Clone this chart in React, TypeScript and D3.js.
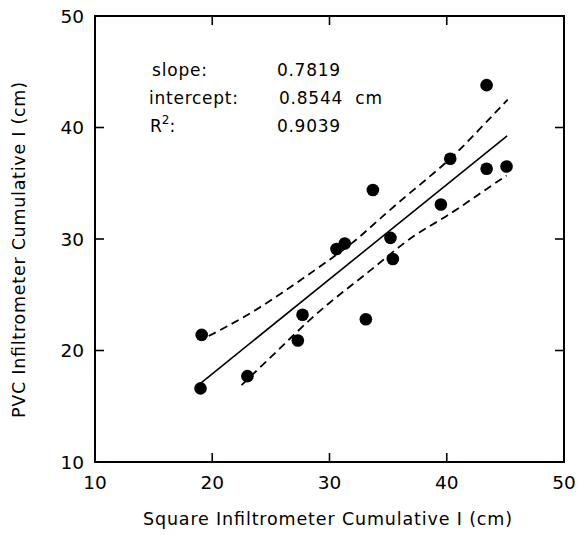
import React from "react";
import * as d3 from "d3";

const xTicks = [10, 20, 30, 40, 50];
const yTicks = [10, 20, 30, 40, 50];

const squareI = [19.1, 19.0, 23.0, 27.7, 27.3, 33.1, 30.6, 31.3, 35.2, 35.4, 33.7, 39.5, 40.3, 43.4, 43.4, 45.1];
const pvcI = [21.4, 16.6, 17.7, 23.2, 20.9, 22.8, 29.1, 29.6, 30.1, 28.2, 34.4, 33.1, 37.2, 43.8, 36.3, 36.5];

const fitX = [19.0, 45.15];
const fitY = [17.06, 39.25];

const upperX = [19.7, 22.8, 25.9, 29.0, 32.0, 34.3, 37.15, 40.3, 42.85, 45.2];
const upperY = [21.3, 23.0, 25.1, 27.4, 29.6, 31.85, 34.4, 37.1, 39.9, 42.5];

const lowerX = [22.5, 25.35, 28.5, 31.3, 34.15, 36.9, 40.0, 42.85, 45.1];
const lowerY = [16.9, 19.75, 23.0, 25.4, 27.7, 30.2, 32.0, 34.1, 35.7];

const statLabels = ["slope:", "intercept:", "R"];
const statValues = ["0.7819", "0.8544  cm", "0.9039"];

const W = 578;
const H = 535;
const FONT = "DejaVu Sans, sans-serif";

export default function App() {
  const x = d3.scaleLinear().domain([10, 50]).range([95, 564]);
  const y = d3.scaleLinear().domain([10, 50]).range([462, 16]);

  const fitLine = d3.line<number>().x((_, i) => x(fitX[i])).y((_, i) => y(fitY[i]));
  const upperLine = d3
    .line<number>()
    .x((_, i) => x(upperX[i]))
    .y((_, i) => y(upperY[i]))
    .curve(d3.curveBasis);
  const lowerLine = d3
    .line<number>()
    .x((_, i) => x(lowerX[i]))
    .y((_, i) => y(lowerY[i]))
    .curve(d3.curveBasis);

  const tickLen = 9;
  const [x0, x1] = x.range();
  const [y0, y1] = y.range();

  return (
    <svg
      width={W}
      height={H}
      style={{ position: "absolute", left: 0, top: 0, background: "#fff" }}
      fontFamily={FONT}
    >
      <rect x={0} y={0} width={W} height={H} fill="#fff" />
      {/* frame */}
      <rect x={x0} y={y1} width={x1 - x0} height={y0 - y1} fill="none" stroke="#000" strokeWidth={2} />
      {/* x ticks */}
      {xTicks.slice(1, -1).map((t) => (
        <g key={"xt" + t}>
          <line x1={x(t)} x2={x(t)} y1={y0} y2={y0 - tickLen} stroke="#000" strokeWidth={1.6} />
          <line x1={x(t)} x2={x(t)} y1={y1} y2={y1 + tickLen} stroke="#000" strokeWidth={1.6} />
        </g>
      ))}
      {xTicks.map((t) => (
        <text key={"xl" + t} x={x(t)} y={489} textAnchor="middle" fontSize={18.5} fill="#000">
          {t}
        </text>
      ))}
      {/* y ticks */}
      {yTicks.slice(1, -1).map((t) => (
        <g key={"yt" + t}>
          <line x1={x0} x2={x0 + tickLen} y1={y(t)} y2={y(t)} stroke="#000" strokeWidth={1.6} />
          <line x1={x1} x2={x1 - tickLen} y1={y(t)} y2={y(t)} stroke="#000" strokeWidth={1.6} />
        </g>
      ))}
      {yTicks.map((t) => (
        <text
          key={"yl" + t}
          x={84}
          y={y(t)}
          dy="0.36em"
          textAnchor="end"
          fontSize={18.5}
          fill="#000"
        >
          {t}
        </text>
      ))}
      {/* axis titles */}
      <text
        x={143}
        y={525}
        fontSize={17.5}
        fill="#000"
        textLength={369}
        lengthAdjust="spacing"
      >
        Square Infiltrometer Cumulative I (cm)
      </text>
      <text
        transform={`translate(25,418) rotate(-90)`}
        fontSize={17.5}
        fill="#000"
        textLength={336}
        lengthAdjust="spacing"
      >
        PVC Infiltrometer Cumulative I (cm)
      </text>
      {/* stats */}
      <text x={152} y={76} fontSize={17} fill="#000" textLength={55} lengthAdjust="spacing">{statLabels[0]}</text>
      <text x={149} y={104} fontSize={17} fill="#000" textLength={89} lengthAdjust="spacing">{statLabels[1]}</text>
      <text x={150} y={132} fontSize={17} fill="#000">
        {statLabels[2]}
        <tspan dy={-8} fontSize={12}>2</tspan>
        <tspan dy={8}>:</tspan>
      </text>
      <text x={277} y={76} fontSize={17} fill="#000" textLength={63} lengthAdjust="spacing">{statValues[0]}</text>
      <text x={279} y={104} fontSize={17} fill="#000" style={{ whiteSpace: "pre" }} textLength={103} lengthAdjust="spacing">{statValues[1]}</text>
      <text x={277} y={132} fontSize={17} fill="#000" textLength={63} lengthAdjust="spacing">{statValues[2]}</text>
      {/* lines */}
      <path d={fitLine(fitX) || ""} fill="none" stroke="#000" strokeWidth={1.6} />
      <path d={upperLine(upperX) || ""} fill="none" stroke="#000" strokeWidth={1.8} strokeDasharray="8,5" />
      <path d={lowerLine(lowerX) || ""} fill="none" stroke="#000" strokeWidth={1.8} strokeDasharray="8,5" />
      {/* points */}
      {squareI.map((v, i) => (
        <circle key={"p" + i} cx={x(v)} cy={y(pvcI[i])} r={6.3} fill="#000" />
      ))}
    </svg>
  );
}
